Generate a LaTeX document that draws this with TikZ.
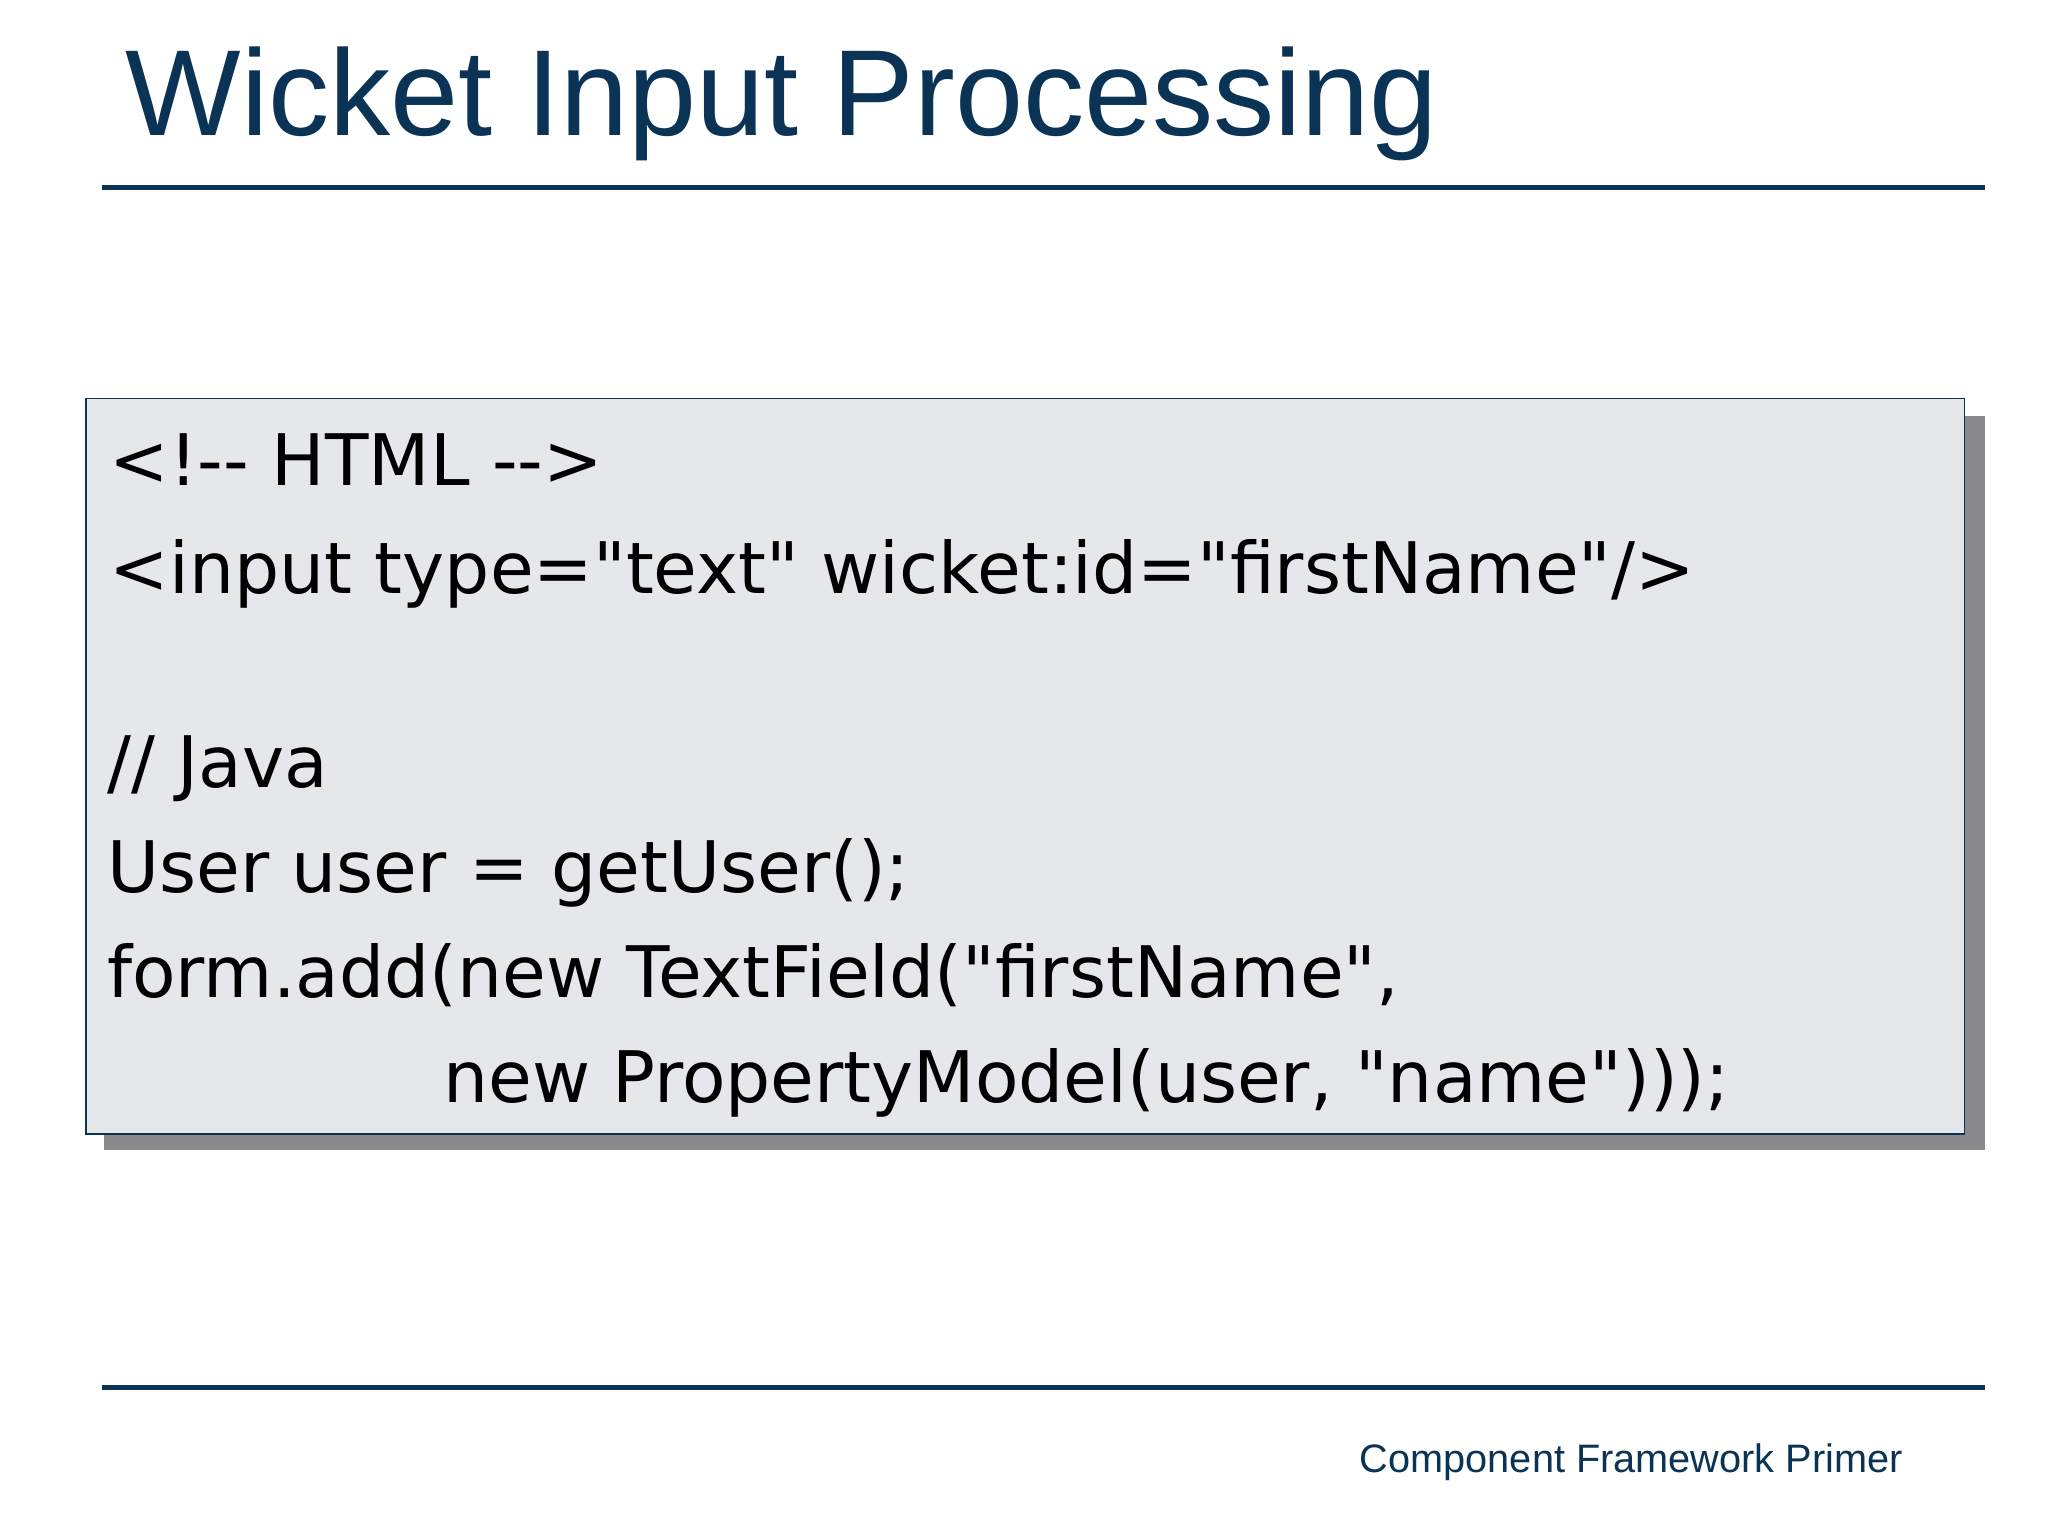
\documentclass[tikz,border=0pt]{standalone}
\usepackage{fontspec}
\setmainfont{Liberation Sans}
\newfontfamily\codefont{DejaVu Sans}
\definecolor{navy}{HTML}{0A3356}
\definecolor{boxfill}{HTML}{E6E7EA}
\definecolor{shadow}{HTML}{8A8A8C}
\newcommand{\qq}{\symbol{34}}
\tikzset{
  rule/.style={navy, line width=0.04cm},
  codeline/.style={anchor=base west, inner sep=0pt, font=\codefont\fontsize{15.4}{18}\selectfont, text=black},
}
\begin{document}
\begin{tikzpicture}[x=0.01cm,y=-0.01cm]
\useasboundingbox (0,0) rectangle (1560,1170);
\fill[white] (0,0) rectangle (1560,1170);
\node[anchor=base west, inner sep=0pt, text=navy, font=\fontsize{26.5}{30}\selectfont] (title) at (95,103) {Wicket Input Processing};
\coordinate (r1a) at (78,143); \coordinate (r1b) at (1512,143);
\draw[rule] (r1a) -- (r1b);
\fill[shadow] (79,317) rectangle (1512,876);
\node[draw=navy, line width=0.012cm, fill=boxfill, minimum width=14.3cm, minimum height=5.6cm, anchor=north west, inner sep=0pt] (box) at (65,303) {};
\node[codeline] (l1) at (83,370) {<!-{}- HTML -{}->};
\node[codeline] (l2) at (83,452) {<input type=\qq text\qq\ wicket:id=\qq firstName\qq/>};
\node[codeline] (l3) at (81,600) {// Java};
\node[codeline] (l4) at (81,680) {User user = getUser();};
\node[codeline] (l5) at (81,760) {form.add(new TextField(\qq firstName\qq,};
\node[codeline] (l6) at (337,840) {new PropertyModel(user, \qq name\qq)));};
\coordinate (r2a) at (78,1057); \coordinate (r2b) at (1512,1057);
\draw[rule] (r2a) -- (r2b);
\node[anchor=base east, inner sep=0pt, text=navy, font=\fontsize{8.6}{10}\selectfont] (foot) at (1450,1122) {Component Framework Primer};
\end{tikzpicture}
\end{document}
